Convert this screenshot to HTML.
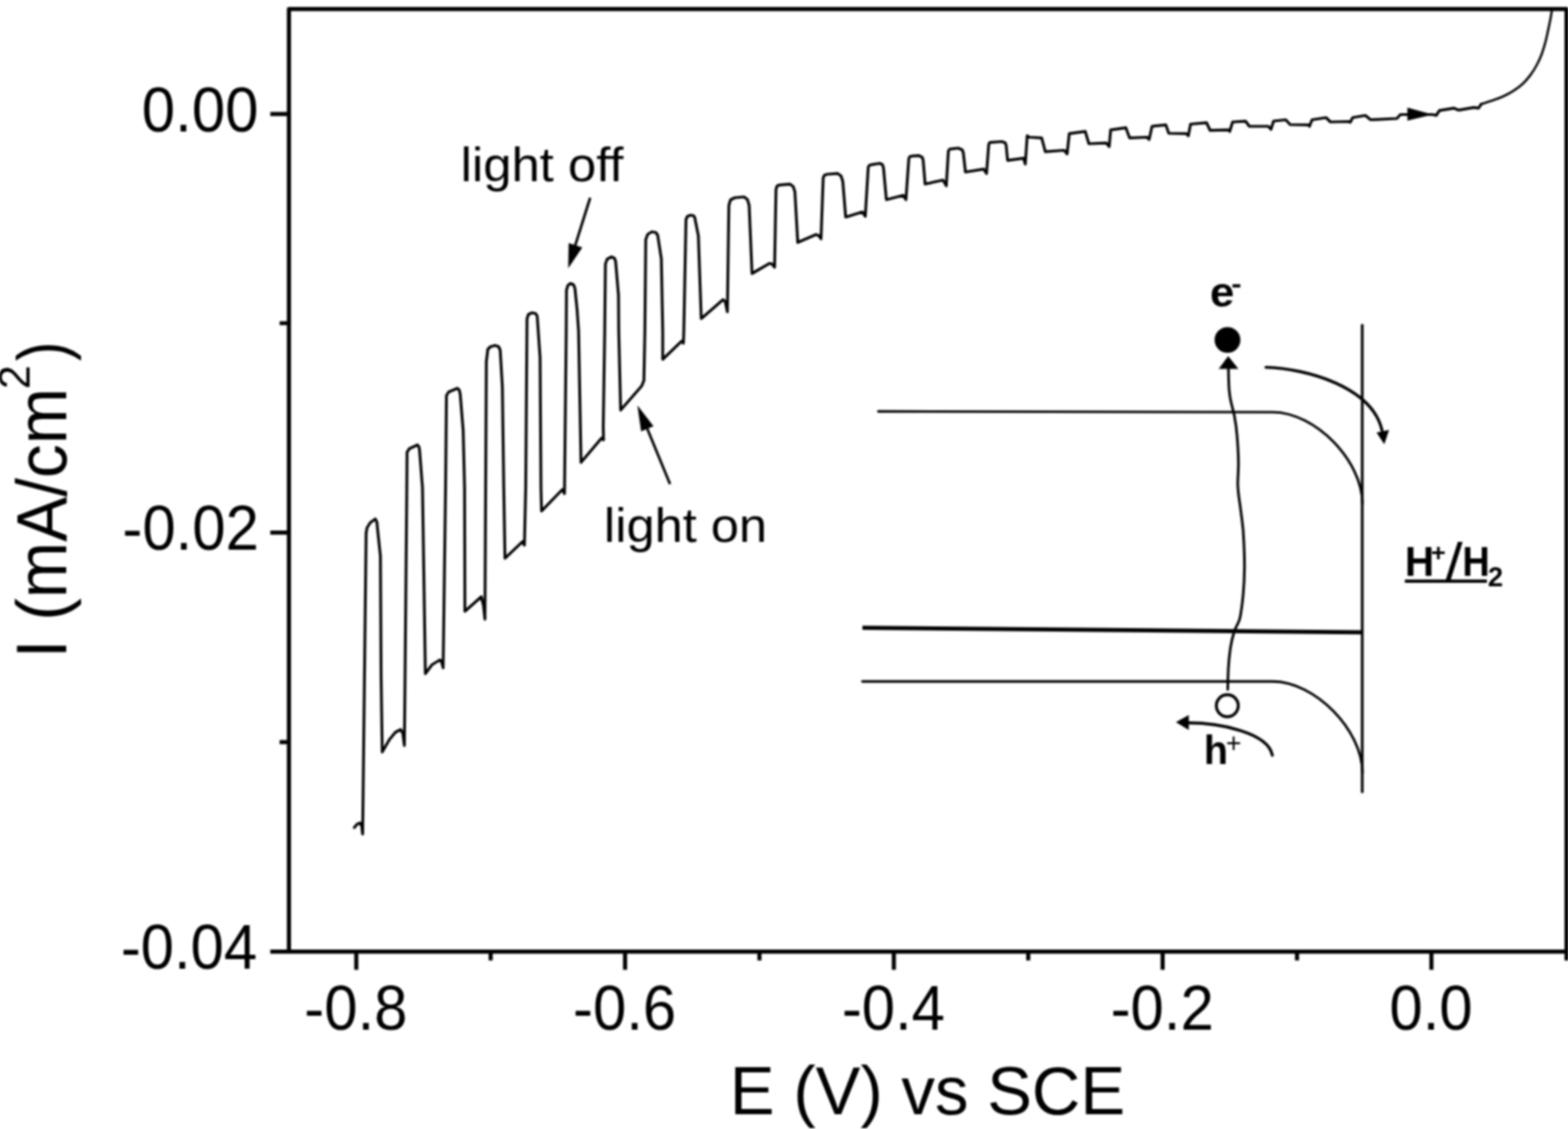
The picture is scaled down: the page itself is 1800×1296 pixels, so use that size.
<!DOCTYPE html>
<html lang="en"><head><meta charset="utf-8"><title>Photocurrent voltammogram</title>
<style>
html,body{margin:0;padding:0;background:#fff;}
body{width:1800px;height:1296px;overflow:hidden;}
svg{display:block;}
text{font-family:"Liberation Sans",Arial,Helvetica,sans-serif;fill:#000;}
</style></head><body>
<svg width="1800" height="1296" viewBox="0 0 1800 1296">
<defs><filter id="soft" x="0" y="0" width="1800" height="1296" filterUnits="userSpaceOnUse"><feGaussianBlur stdDeviation="0.8"/></filter></defs>
<rect x="0" y="0" width="1800" height="1296" fill="#ffffff"/>
<g filter="url(#soft)">
<g fill="none" stroke="#000" stroke-width="4.7" stroke-linecap="butt" stroke-linejoin="round">
<path d="M331.7,1092.4 L331.7,10.3 L1798.3,10.3 L1798.3,1102.5"/>
<path d="M310.3,1092.4 L1800,1092.4"/>
<path d="M310.3,130.8 L331.7,130.8 M310.3,611.3 L331.7,611.3 M321,371.0 L331.7,371.0 M321,851.8 L331.7,851.8 M409.00,1092.4 L409.00,1113.3 M717.55,1092.4 L717.55,1113.3 M1026.10,1092.4 L1026.10,1113.3 M1334.65,1092.4 L1334.65,1113.3 M1643.20,1092.4 L1643.20,1113.3 M563.27,1092.4 L563.27,1102.5 M871.83,1092.4 L871.83,1102.5 M1180.38,1092.4 L1180.38,1102.5 M1488.92,1092.4 L1488.92,1102.5"/>
</g>
<path d="M406.7,950.0 L410.0,946.0 L413.3,944.7 L415.2,948.0 L416.3,957.5 L420.3,612.0 L421.3,606.0 L425.0,600.0 L430.8,595.8 L432.6,599.0 L433.7,610.0 L436.7,638.3 L437.5,776.0 L438.8,863.3 L447.0,849.0 L454.0,840.5 L460.0,837.5 L462.5,842.0 L464.2,855.8 L465.0,776.0 L467.0,560.0 L467.3,519.0 L470.0,515.0 L479.2,510.7 L481.0,513.0 L481.7,517.3 L485.0,560.0 L488.3,773.3 L496.0,763.0 L505.0,757.5 L507.0,760.0 L508.7,766.7 L511.5,560.0 L512.5,454.0 L515.0,450.0 L525.0,445.7 L527.3,448.0 L528.3,452.3 L531.7,494.0 L533.3,560.0 L533.7,701.7 L552.5,685.0 L555.0,695.0 L556.7,710.8 L557.5,560.0 L558.3,415.0 L560.0,401.0 L563.0,398.0 L568.3,396.5 L572.5,398.0 L574.2,402.0 L576.7,444.0 L578.3,560.0 L579.7,640.8 L600.0,621.7 L602.0,625.8 L603.5,560.0 L605.0,366.0 L606.5,361.0 L610.8,359.0 L615.0,360.0 L616.7,363.0 L620.0,410.7 L621.0,560.0 L621.7,586.7 L645.5,562.0 L648.0,566.7 L650.0,380.0 L650.3,333.0 L652.0,327.5 L655.0,325.3 L658.5,327.0 L660.0,331.0 L662.5,355.7 L664.2,380.0 L667.0,530.8 L690.5,503.0 L692.8,505.0 L692.5,490.0 L694.2,380.0 L695.0,303.0 L697.0,297.5 L701.7,294.8 L705.5,296.5 L706.7,300.0 L710.0,339.0 L710.3,380.0 L712.5,470.8 L736.7,443.0 L739.2,436.7 L740.3,380.0 L741.3,275.0 L743.5,269.0 L748.3,266.0 L753.0,267.0 L755.0,270.0 L759.2,297.3 L760.8,380.0 L760.8,412.5 L782.5,391.7 L784.5,394.0 L785.0,380.0 L787.5,252.0 L789.0,248.5 L792.5,247.0 L796.0,247.5 L797.5,249.5 L801.7,270.7 L805.0,365.7 L830.0,344.0 L832.5,346.0 L835.0,358.0 L836.7,236.0 L838.5,229.5 L843.3,227.0 L854.2,226.0 L858.0,229.0 L860.0,235.7 L863.3,314.0 L883.3,302.3 L886.0,303.0 L889.2,306.7 L890.8,217.5 L892.0,213.5 L895.0,212.3 L906.7,211.3 L910.5,214.0 L912.5,220.0 L915.8,278.3 L936.7,269.2 L940.0,270.5 L942.5,274.2 L945.0,204.0 L946.5,201.0 L950.0,200.0 L961.7,199.2 L965.5,202.0 L967.5,208.3 L970.8,249.2 L990.0,243.3 L993.3,248.3 L996.7,192.0 L998.0,189.8 L1000.0,189.2 L1010.0,187.5 L1013.0,189.0 L1014.2,192.5 L1017.5,229.2 L1036.7,224.2 L1040.0,229.2 L1043.3,182.0 L1044.5,179.8 L1046.7,179.2 L1055.0,178.7 L1058.5,180.5 L1059.7,183.3 L1062.0,211.3 L1082.5,206.7 L1086.3,213.3 L1088.7,173.5 L1090.0,171.3 L1092.5,170.8 L1100.0,170.0 L1104.5,172.0 L1105.8,175.0 L1108.3,197.5 L1129.2,194.2 L1132.5,199.2 L1135.0,166.0 L1136.0,163.8 L1138.3,163.3 L1150.0,162.5 L1154.0,164.0 L1155.0,166.7 L1156.7,184.2 L1175.0,181.7 L1177.0,188.3 L1179.2,155.8 L1181.7,157.5 L1195.8,158.3 L1200.0,174.2 L1221.7,172.5 L1225.0,176.7 L1227.5,153.3 L1245.8,150.8 L1250.0,165.0 L1270.0,164.2 L1273.3,168.3 L1275.0,149.2 L1292.5,146.7 L1296.7,158.3 L1316.7,157.5 L1319.2,160.0 L1322.5,145.0 L1338.3,143.3 L1341.7,153.0 L1361.7,153.3 L1364.2,155.8 L1366.7,142.5 L1385.0,140.8 L1389.2,149.7 L1410.0,149.2 L1411.7,150.8 L1415.0,140.0 L1430.0,139.2 L1434.2,145.0 L1456.0,145.0 L1459.0,148.5 L1462.0,139.0 L1476.0,137.5 L1481.0,143.0 L1502.2,143.3 L1503.2,145.0 L1506.2,137.5 L1522.3,135.0 L1527.3,140.0 L1548.4,139.5 L1550.0,140.5 L1552.8,135.0 L1567.4,132.5 L1573.5,137.5 L1603.6,136.0 L1607.6,131.5 L1644.7,131.5 L1648.7,132.5 L1652.4,126.9 L1669.2,124.2 L1674.6,126.4 L1691.9,123.4 L1697.3,124.2 L1700.5,119.4" fill="none" stroke="#000" stroke-width="3.2" stroke-linejoin="round" stroke-linecap="round"/>
<path d="M1700.5,119.4 C1701.8,119.0 1705.5,117.8 1708.0,117.0 C1710.5,116.2 1712.5,115.6 1715.6,114.5 C1718.7,113.4 1722.8,111.9 1726.4,110.2 C1730.0,108.5 1733.6,106.6 1737.2,104.3 C1740.8,102.0 1744.8,99.2 1748.0,96.2 C1751.2,93.2 1754.0,90.0 1756.7,86.4 C1759.4,82.8 1762.1,78.5 1764.2,74.5 C1766.3,70.5 1768.0,67.0 1769.6,62.7 C1771.2,58.4 1772.7,53.3 1774.0,48.6 C1775.3,43.9 1776.2,39.1 1777.2,34.6 C1778.2,30.1 1779.2,25.4 1779.9,21.6 C1780.6,17.8 1781.2,13.5 1781.5,11.9" fill="none" stroke="#000" stroke-width="2.6" stroke-linejoin="round" stroke-linecap="round"/>
<path d="M1615.6,123.4 L1644.7,131.5 L1615.6,138.5 Z" fill="#000"/>
<text transform="matrix(0.68740,0,0,0.72394,349.28,1182.08)" font-size="100" font-weight="normal">-0.8</text>
<text transform="matrix(0.68740,0,0,0.72394,657.83,1182.08)" font-size="100" font-weight="normal">-0.6</text>
<text transform="matrix(0.68740,0,0,0.72394,966.38,1182.08)" font-size="100" font-weight="normal">-0.4</text>
<text transform="matrix(0.68740,0,0,0.72394,1274.93,1182.08)" font-size="100" font-weight="normal">-0.2</text>
<text transform="matrix(0.68740,0,0,0.72394,1594.93,1182.08)" font-size="100" font-weight="normal">0.0</text>
<text transform="matrix(0.68740,0,0,0.72394,162.85,150.78)" font-size="100" font-weight="normal">0.00</text>
<text transform="matrix(0.68740,0,0,0.72394,140.51,631.28)" font-size="100" font-weight="normal">-0.02</text>
<text transform="matrix(0.68740,0,0,0.72394,138.64,1112.38)" font-size="100" font-weight="normal">-0.04</text>
<text transform="matrix(0.77069,0,0,0.77681,837.83,1279.30)" font-size="100" font-weight="normal">E (V) vs SCE</text>
<text transform="matrix(0.58347,0,0,0.55586,528.81,208.30)" font-size="100" font-weight="normal">light off</text>
<text transform="matrix(0.58061,0,0,0.55862,693.33,622.30)" font-size="100" font-weight="normal">light on</text>
<g transform="matrix(0.80725,0,0,0.77604,75.90,755.67)"><text transform="rotate(-90)" font-size="100" font-weight="normal">I (mA/cm</text></g>
<g transform="matrix(0.49143,0,0,0.49451,33.50,446.77)"><text transform="rotate(-90)" font-size="100" font-weight="normal">2</text></g>
<g transform="matrix(0.79893,0,0,0.66923,75.72,414.47)"><text transform="rotate(-90)" font-size="100" font-weight="normal">)</text></g>
<g stroke="#000" stroke-width="3" fill="none"><path d="M677.5,227 L659,286"/><path d="M769.2,555.8 L743,492"/></g>
<path d="M652.3,308 L652.8,279 L668.5,284 Z" fill="#000"/>
<path d="M731.7,465.3 L750.2,489.3 L736.0,495.2 Z" fill="#000"/>
<g fill="none" stroke="#000" stroke-width="2.9" stroke-linecap="round" stroke-linejoin="round">
<path d="M1563.8,373.3 L1563.8,908.9" stroke-width="3.1"/>
<path d="M1008.3,472.3 L1461,473.1 C1509.4,473.1 1564,528.7 1564,578"/>
<path d="M990,782.3 L1461,782.3 C1509.4,782.3 1564,838 1564,887"/>
<path d="M1410.2,424 C1410.4,435 1410.6,441 1410.9,446.3 C1411.5,453 1412.3,458 1413.2,461.7 C1414.5,467.5 1416,472 1417,477.2 C1418.5,485 1419.5,492 1420.1,500.3 C1421,511 1421.6,521 1421.7,531.2 C1421.8,540 1421,548 1420.9,554.3 C1420.9,562 1422,570 1423.2,577.5 C1424,583 1424.7,589 1425.5,594.6 C1426.7,603 1427.5,612 1427.8,620.9 C1428.3,631 1428.7,641 1428.6,651.7 C1428.5,662 1428,673 1427.1,682.6 C1426.2,692 1425,702 1423.2,710.4 C1421.5,716 1418.5,720 1417,724.3 C1415,731 1413.3,738 1412.4,744.3 C1411.3,752 1410.5,760 1410.1,767.5 C1409.7,775 1409.5,783 1409.4,791.5" stroke-width="3"/>
</g>
<circle cx="1408.9" cy="810.1" r="12.6" fill="none" stroke="#000" stroke-width="3.4"/>
<path d="M990,720.7 L1564,725.8" fill="none" stroke="#000" stroke-width="4.8"/>
<g fill="none" stroke="#000" stroke-width="3.4" stroke-linecap="round">
<path d="M1453.3,421.6 C1500,423 1575,444 1586.5,494"/>
<path d="M1362,829.8 C1400,829.5 1456,841 1460.6,867"/>
</g>
<circle cx="1409.1" cy="390.2" r="14.8" fill="#000"/>
<path d="M1409.9,408.8 L1421.7,423.6 L1399,423.6 Z" fill="#000"/>
<path d="M1589.1,510 L1580.2,496.6 L1594.6,493.6 Z" fill="#000"/>
<path d="M1349.9,829.1 L1364.7,820.8 L1364.7,837.9 Z" fill="#000"/>
<text transform="matrix(0.50208,0,0,0.47455,1389.09,352.13)" font-size="100" font-weight="bold">e</text>
<text transform="matrix(0.35294,0,0,0.30833,1413.39,336.17)" font-size="100" font-weight="bold">-</text>
<text transform="matrix(0.45417,0,0,0.45931,1381.92,877.20)" font-size="100" font-weight="bold">h</text>
<text transform="matrix(0.30515,0,0,0.32245,1407.17,863.50)" font-size="100" font-weight="normal">+</text>
<text transform="matrix(0.46610,0,0,0.48406,1612.77,660.70)" font-size="100" font-weight="bold">H</text>
<text transform="matrix(0.28911,0,0,0.27059,1642.64,644.16)" font-size="100" font-weight="bold">+</text>
<text transform="matrix(0.71273,0,0,0.60544,1659.30,666.29)" font-size="100" font-weight="normal">/</text>
<text transform="matrix(0.43559,0,0,0.48406,1678.77,660.70)" font-size="100" font-weight="bold">H</text>
<text transform="matrix(0.31458,0,0,0.31714,1708.00,673.10)" font-size="100" font-weight="bold">2</text>
<path d="M1612.7,667.1 L1706.9,667.1" stroke="#000" stroke-width="3.6" fill="none"/>
</g>
</svg>
</body></html>
